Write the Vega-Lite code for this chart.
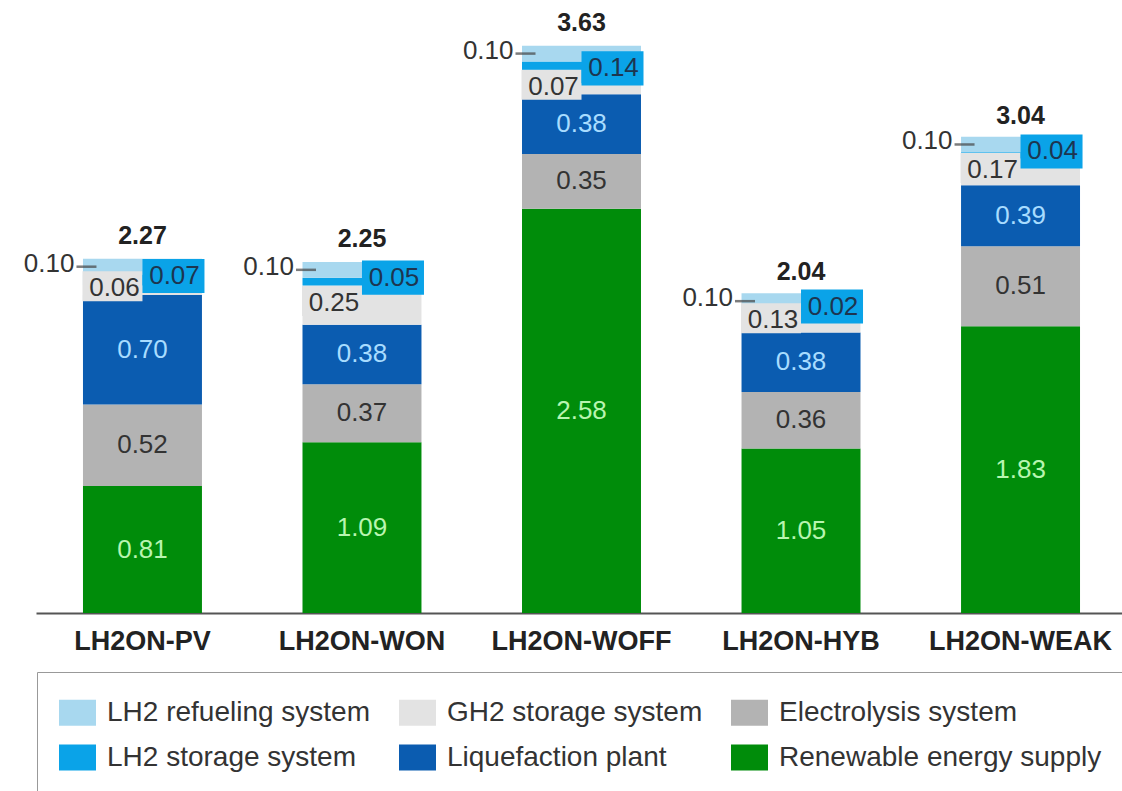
{
  "$schema": "https://vega.github.io/schema/vega-lite/v6.json",
  "width": 1091,
  "height": 613,
  "autosize": "none",
  "padding": {"left": 36, "top": 0, "right": 0, "bottom": 178},
  "background": "white",
  "config": {
    "view": {"stroke": null},
    "font": "Liberation Sans",
    "text": {"font": "Liberation Sans"}
  },
  "datasets": {
    "segments": [
      {"scenario": "LH2ON-PV", "component": "Renewable energy supply", "value": 0.81},
      {"scenario": "LH2ON-PV", "component": "Electrolysis system", "value": 0.52},
      {"scenario": "LH2ON-PV", "component": "Liquefaction plant", "value": 0.70},
      {"scenario": "LH2ON-PV", "component": "GH2 storage system", "value": 0.06},
      {"scenario": "LH2ON-PV", "component": "LH2 storage system", "value": 0.07},
      {"scenario": "LH2ON-PV", "component": "LH2 refueling system", "value": 0.10},
      {"scenario": "LH2ON-WON", "component": "Renewable energy supply", "value": 1.09},
      {"scenario": "LH2ON-WON", "component": "Electrolysis system", "value": 0.37},
      {"scenario": "LH2ON-WON", "component": "Liquefaction plant", "value": 0.38},
      {"scenario": "LH2ON-WON", "component": "GH2 storage system", "value": 0.25},
      {"scenario": "LH2ON-WON", "component": "LH2 storage system", "value": 0.05},
      {"scenario": "LH2ON-WON", "component": "LH2 refueling system", "value": 0.10},
      {"scenario": "LH2ON-WOFF", "component": "Renewable energy supply", "value": 2.58},
      {"scenario": "LH2ON-WOFF", "component": "Electrolysis system", "value": 0.35},
      {"scenario": "LH2ON-WOFF", "component": "Liquefaction plant", "value": 0.38},
      {"scenario": "LH2ON-WOFF", "component": "GH2 storage system", "value": 0.07},
      {"scenario": "LH2ON-WOFF", "component": "LH2 storage system", "value": 0.14},
      {"scenario": "LH2ON-WOFF", "component": "LH2 refueling system", "value": 0.10},
      {"scenario": "LH2ON-HYB", "component": "Renewable energy supply", "value": 1.05},
      {"scenario": "LH2ON-HYB", "component": "Electrolysis system", "value": 0.36},
      {"scenario": "LH2ON-HYB", "component": "Liquefaction plant", "value": 0.38},
      {"scenario": "LH2ON-HYB", "component": "GH2 storage system", "value": 0.13},
      {"scenario": "LH2ON-HYB", "component": "LH2 storage system", "value": 0.02},
      {"scenario": "LH2ON-HYB", "component": "LH2 refueling system", "value": 0.10},
      {"scenario": "LH2ON-WEAK", "component": "Renewable energy supply", "value": 1.83},
      {"scenario": "LH2ON-WEAK", "component": "Electrolysis system", "value": 0.51},
      {"scenario": "LH2ON-WEAK", "component": "Liquefaction plant", "value": 0.39},
      {"scenario": "LH2ON-WEAK", "component": "GH2 storage system", "value": 0.17},
      {"scenario": "LH2ON-WEAK", "component": "LH2 storage system", "value": 0.04},
      {"scenario": "LH2ON-WEAK", "component": "LH2 refueling system", "value": 0.10}
    ],
    "totals": [
      {"scenario": "LH2ON-PV", "total": 2.27},
      {"scenario": "LH2ON-WON", "total": 2.25},
      {"scenario": "LH2ON-WOFF", "total": 3.63},
      {"scenario": "LH2ON-HYB", "total": 2.04},
      {"scenario": "LH2ON-WEAK", "total": 3.04}
    ]
  },
  "encoding": {
    "x": {
      "field": "scenario",
      "type": "nominal",
      "sort": ["LH2ON-PV", "LH2ON-WON", "LH2ON-WOFF", "LH2ON-HYB", "LH2ON-WEAK"],
      "scale": {"paddingInner": 0.458, "paddingOuter": 0.214},
      "axis": {
        "title": null,
        "labelAngle": 0,
        "labelFont": "Liberation Sans",
        "labelFontSize": 27,
        "labelFontWeight": "bold",
        "labelColor": "#222222",
        "labelPadding": 15,
        "ticks": false,
        "domainColor": "#555555",
        "domainWidth": 2,
        "labelLimit": 300
      }
    }
  },
  "layer": [
    {
      "data": {"name": "segments"},
      "transform": [
        {"calculate": "indexof(['Renewable energy supply','Electrolysis system','Liquefaction plant','GH2 storage system','LH2 storage system','LH2 refueling system'], datum.component)", "as": "rank"},
        {"stack": "value", "groupby": ["scenario"], "sort": [{"field": "rank", "order": "ascending"}], "as": ["v0", "v1"]},
        {"calculate": "(datum.v0 + datum.v1) / 2", "as": "mid"}
      ],
      "layer": [
        {
          "mark": {"type": "bar"},
          "encoding": {
            "y": {"field": "v1", "type": "quantitative", "scale": {"domain": [0, 3.912], "nice": false}, "axis": null},
            "y2": {"field": "v0"},
            "color": {
              "field": "component",
              "type": "nominal",
              "scale": {
                "domain": ["LH2 refueling system", "GH2 storage system", "Electrolysis system", "LH2 storage system", "Liquefaction plant", "Renewable energy supply"],
                "range": ["#a8d8ef", "#e3e3e3", "#b3b3b3", "#0aa3e8", "#0b5cb0", "#008c0a"]
              },
              "legend": {
                "title": null,
                "orient": "none",
                "legendX": 1,
                "legendY": 672,
                "columns": 3,
                "direction": "horizontal",
                "values": ["LH2 refueling system", "GH2 storage system", "Electrolysis system", "LH2 storage system", "Liquefaction plant", "Renewable energy supply"],
                "symbolType": "M-1,-0.7H1V0.7H-1Z",
                "symbolSize": 1369,
                "symbolStrokeWidth": 0,
                "symbolOpacity": 1,
                "labelFont": "Liberation Sans",
                "labelFontSize": 28,
                "labelColor": "#333333",
                "labelOffset": 11,
                "labelLimit": 500,
                "columnPadding": 28,
                "rowPadding": 12,
                "padding": 22,
                "strokeColor": "#999999"
              }
            }
          }
        },
        {
          "transform": [{"filter": "datum.component === 'GH2 storage system'"}],
          "mark": {"type": "point", "shape": "M-1,-0.5H1V0.5H-1Z", "size": 3600, "filled": true, "fill": "#e3e3e3", "opacity": 1, "strokeWidth": 0, "xOffset": -30, "yOffset": -4},
          "encoding": {"y": {"field": "mid", "type": "quantitative"}}
        },
        {
          "transform": [{"filter": "datum.component === 'LH2 storage system'"}],
          "mark": {"type": "point", "shape": "M-1,-0.55H1V0.55H-1Z", "size": 3844, "filled": true, "fill": "#0aa3e8", "opacity": 1, "strokeWidth": 0, "xOffset": 31, "yOffset": -4},
          "encoding": {"y": {"field": "mid", "type": "quantitative"}}
        },
        {
          "transform": [{"filter": "datum.component === 'Renewable energy supply' || datum.component === 'Electrolysis system' || datum.component === 'Liquefaction plant'"}],
          "mark": {"type": "text", "fontSize": 26, "align": "center", "baseline": "middle"},
          "encoding": {
            "y": {"field": "mid", "type": "quantitative"},
            "text": {"field": "value", "type": "quantitative", "format": ".2f"},
            "color": {
              "condition": [
                {"test": "datum.component === 'Renewable energy supply'", "value": "#b8f5b0"},
                {"test": "datum.component === 'Liquefaction plant'", "value": "#a8dcff"}
              ],
              "value": "#333333"
            }
          }
        },
        {
          "transform": [{"filter": "datum.component === 'GH2 storage system'"}],
          "mark": {"type": "text", "fontSize": 26, "align": "center", "baseline": "middle", "dx": -28, "dy": -2, "color": "#333333"},
          "encoding": {
            "y": {"field": "mid", "type": "quantitative"},
            "text": {"field": "value", "type": "quantitative", "format": ".2f"}
          }
        },
        {
          "transform": [{"filter": "datum.component === 'LH2 storage system'"}],
          "mark": {"type": "text", "fontSize": 26, "align": "center", "baseline": "middle", "dx": 32, "dy": -4, "color": "#1d3550"},
          "encoding": {
            "y": {"field": "mid", "type": "quantitative"},
            "text": {"field": "value", "type": "quantitative", "format": ".2f"}
          }
        },
        {
          "transform": [{"filter": "datum.component === 'LH2 refueling system'"}],
          "mark": {"type": "text", "fontSize": 26, "align": "right", "baseline": "middle", "dx": -68, "dy": -3, "color": "#333333"},
          "encoding": {
            "y": {"field": "mid", "type": "quantitative"},
            "text": {"field": "value", "type": "quantitative", "format": ".2f"}
          }
        },
        {
          "transform": [{"filter": "datum.component === 'LH2 refueling system'"}],
          "mark": {"type": "tick", "orient": "horizontal", "size": 20, "thickness": 2.5, "color": "#444444", "xOffset": -56},
          "encoding": {
            "y": {"field": "mid", "type": "quantitative"}
          }
        }
      ]
    },
    {
      "data": {"name": "totals"},
      "mark": {"type": "text", "fontSize": 25, "fontWeight": "bold", "align": "center", "baseline": "alphabetic", "dy": -13, "color": "#222222"},
      "encoding": {
        "y": {"field": "total", "type": "quantitative"},
        "text": {"field": "total", "type": "quantitative", "format": ".2f"}
      }
    }
  ]
}
